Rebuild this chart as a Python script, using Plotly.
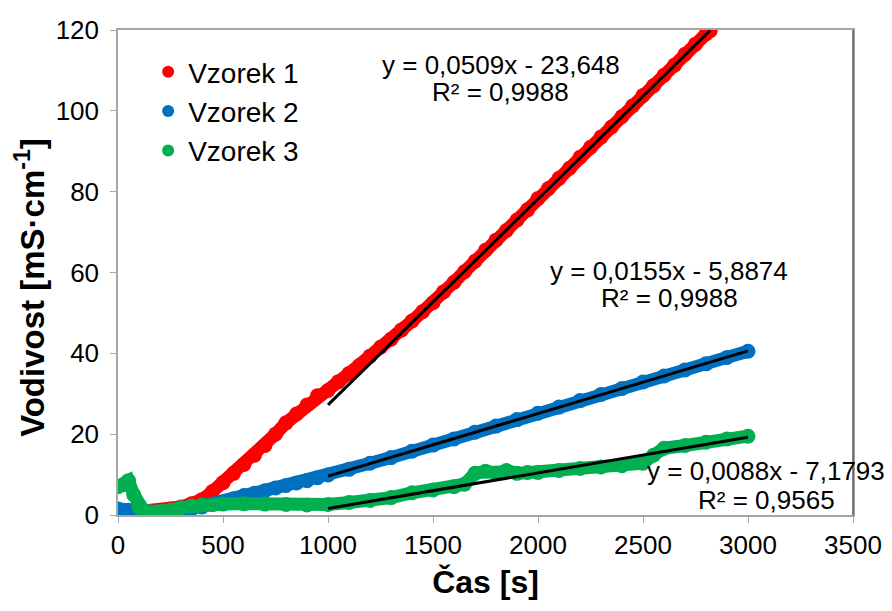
import plotly.graph_objects as go

# ---- data ----
x1 = [0, 50, 100, 150, 200, 250, 300, 350, 400, 450, 500, 550, 600, 650, 700, 750, 800, 850, 900, 950,
      1000, 1050, 1100, 1150, 1200, 1250, 1300, 1350, 1400, 1450, 1500, 1550, 1600, 1650, 1700, 1750,
      1800, 1850, 1900, 1950, 2000, 2050, 2100, 2150, 2200, 2250, 2300, 2350, 2400, 2450, 2500, 2550,
      2600, 2650, 2700, 2750, 2800, 2820]
y1 = [0.3, 0.5, 0.7, 0.8, 1.0, 1.5, 2.0, 2.8, 3.8, 5.8, 8.0, 10.3, 12.5, 14.8, 17.2, 20.0, 22.8, 25.0, 27.2, 29.5,
      30.8, 33.0, 35.0, 37.0, 39.3, 41.5, 43.5, 45.8, 48.0, 50.3, 52.5, 55.2, 57.6, 60.2, 62.8, 65.5,
      68.0, 70.4, 73.0, 75.5, 78.3, 80.8, 83.3, 85.8, 88.5, 91.0, 93.5, 96.0, 98.6, 101.2, 103.8, 106.2,
      108.8, 111.3, 114.0, 116.5, 119.0, 119.8]

x2 = [0, 50, 100, 150, 200, 250, 300, 350, 400, 450, 500, 550, 600, 650, 700, 750, 800, 850, 900, 950,
      1000, 1100, 1200, 1300, 1400, 1500, 1600, 1700, 1800, 1900, 2000, 2100, 2200, 2300, 2400, 2500,
      2600, 2700, 2800, 2900, 3000]
y2 = [1.5, 1.2, 0.8, 0.5, 0.4, 0.6, 1.0, 1.5, 2.0, 2.6, 3.2, 4.0, 4.8, 5.4, 6.0, 6.7, 7.3, 7.9, 8.5, 9.2,
      9.9, 11.3, 12.8, 14.2, 15.8, 17.3, 18.8, 20.5, 22.0, 23.6, 25.2, 26.7, 28.3, 29.8, 31.3, 32.9,
      34.4, 35.9, 37.4, 39.0, 40.5]

x3 = [0, 25, 50, 75, 100, 125, 150, 200, 250, 300, 350, 400, 500, 600, 700, 800, 900, 1000, 1100, 1200,
      1300, 1400, 1500, 1600, 1650, 1700, 1750, 1800, 1850, 1900, 1950, 2000, 2100, 2200, 2300, 2400,
      2500, 2550, 2600, 2700, 2800, 2900, 3000]
y3 = [7.0, 7.5, 8.5, 5.0, 2.0, 1.0, 0.8, 0.8, 1.2, 1.8, 2.2, 2.5, 2.7, 2.8, 2.7, 2.6, 2.5, 2.6, 3.1, 3.6,
      4.3, 5.5, 6.2, 7.0, 7.6, 10.3, 10.8, 10.4, 11.0, 10.3, 10.5, 10.5, 11.0, 11.5, 11.9, 12.2,
      12.8, 14.8, 16.5, 17.2, 18.0, 18.8, 19.5]

names = ["Vzorek 1", "Vzorek 2", "Vzorek 3"]
colors = ["#FF0000", "#0070C0", "#00B050"]

# trendline coefficients as printed in the chart, and fitted range
slopes = [0.0509, 0.0155, 0.0088]
intercepts = [-23.648, -5.8874, -7.1793]
trend_x0 = [1000, 1000, 1000]
trend_x1 = [2820, 3000, 3000]
eq_line1 = ["y = 0,0509x - 23,648", "y = 0,0155x - 5,8874", "y = 0,0088x - 7,1793"]
eq_line2 = ["R² = 0,9988", "R² = 0,9988", "R² = 0,9565"]
# label anchor positions (paper fractions)
eq_pos_x = [0.521, 0.750, 0.882]
eq_pos_y1 = [0.928, 0.503, 0.091]
eq_pos_y2 = [0.872, 0.447, 0.031]

x_ticks = [0, 500, 1000, 1500, 2000, 2500, 3000, 3500]
y_ticks = [0, 20, 40, 60, 80, 100, 120]

x_title = "<b>Čas [s]</b>"
y_title = "<b>Vodivost [mS·cm<sup>-1</sup>]</b>"

FONT = "Liberation Sans, Arial, sans-serif"

fig = go.Figure()
for xs, ys, c, n in zip([x1, x2, x3], [y1, y2, y3], colors, names):
    fig.add_trace(go.Scatter(x=xs, y=ys, mode="lines+markers",
                             line=dict(color=c, width=13),
                             marker=dict(color=c, size=15),
                             showlegend=False, hoverinfo="skip"))

for a, b, x0, xe in zip(slopes, intercepts, trend_x0, trend_x1):
    fig.add_trace(go.Scatter(x=[x0, xe], y=[a * x0 + b, a * xe + b], mode="lines",
                             line=dict(color="black", width=3), showlegend=False,
                             hoverinfo="skip"))

for i, (c, n) in enumerate(zip(colors, names)):
    fig.add_trace(go.Scatter(x=[None], y=[None], mode="markers", name=n,
                             marker=dict(color=c, size=12), legendgroup=f"g{i}"))

for t1, t2, ax, ay1, ay2 in zip(eq_line1, eq_line2, eq_pos_x, eq_pos_y1, eq_pos_y2):
    for t, ay in ((t1, ay1), (t2, ay2)):
        fig.add_annotation(x=ax, y=ay, xref="paper", yref="paper", text=t, showarrow=False,
                           xanchor="center", yanchor="middle",
                           font=dict(size=26, color="black", family=FONT))

# y-axis title (placed slightly below plot centre as in the reference)
fig.add_annotation(x=-0.12, y=0.47, xref="paper", yref="paper", text=y_title,
                   textangle=-90, showarrow=False, xanchor="center", yanchor="middle",
                   font=dict(size=33, color="black", family=FONT))

fig.add_shape(type="line", xref="paper", yref="paper", x0=1, x1=1, y0=0, y1=1,
              line=dict(color="#595959", width=1.5))

fig.update_layout(
    width=892, height=611,
    margin=dict(l=118, r=39, t=30, b=96),
    paper_bgcolor="white", plot_bgcolor="white",
    font=dict(family=FONT, color="black", size=24),
    legend=dict(x=0.041, y=0.965, xanchor="left", yanchor="top", bgcolor="rgba(0,0,0,0)",
                font=dict(size=28), tracegroupgap=0, itemsizing="constant"),
    xaxis=dict(range=[0, 3500], tickvals=x_ticks, showgrid=False, zeroline=False,
               showline=True, linecolor="#A6A6A6", linewidth=1.5, mirror=True,
               ticks="outside", ticklen=6, tickcolor="#A6A6A6", automargin=False,
               tickfont=dict(size=26),
               title=dict(text=x_title, font=dict(size=32), standoff=12)),
    yaxis=dict(range=[0, 120], tickvals=y_ticks, showgrid=False, zeroline=False,
               showline=True, linecolor="#A6A6A6", linewidth=1.5, mirror=True,
               ticks="outside", ticklen=6, tickcolor="#A6A6A6", automargin=False,
               tickfont=dict(size=26), ticklabelstandoff=6),
)

fig.write_html("out.html", config={"displayModeBar": False},
               post_script="document.body.style.margin='0';")
